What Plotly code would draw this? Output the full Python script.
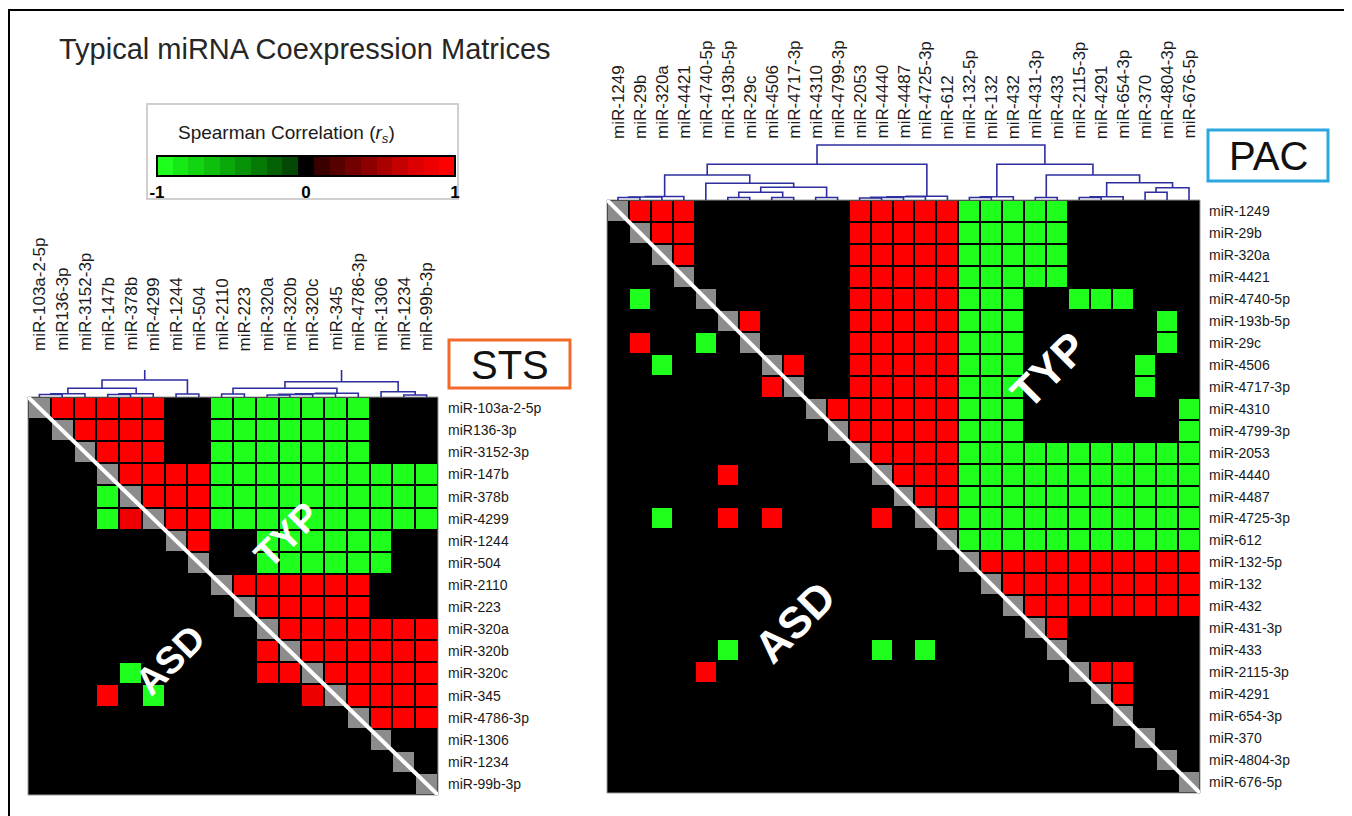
import plotly.graph_objects as go

# page body has an 8px margin; work in reference pixel coords and shift
OFF = 8
W, H = 1352 - OFF, 816 - OFF
def px(x): return (x - OFF) / W
def py(y): return 1 - (y - OFF) / H

FONT = "Liberation Sans, Arial, sans-serif"

# ---------------- data ----------------
STS_LABELS = ["miR-103a-2-5p", "miR136-3p", "miR-3152-3p", "miR-147b", "miR-378b", "miR-4299",
              "miR-1244", "miR-504", "miR-2110", "miR-223", "miR-320a", "miR-320b", "miR-320c",
              "miR-345", "miR-4786-3p", "miR-1306", "miR-1234", "miR-99b-3p"]

PAC_LABELS = ["miR-1249", "miR-29b", "miR-320a", "miR-4421", "miR-4740-5p", "miR-193b-5p", "miR-29c",
              "miR-4506", "miR-4717-3p", "miR-4310", "miR-4799-3p", "miR-2053", "miR-4440", "miR-4487",
              "miR-4725-3p", "miR-612", "miR-132-5p", "miR-132", "miR-432", "miR-431-3p", "miR-433",
              "miR-2115-3p", "miR-4291", "miR-654-3p", "miR-370", "miR-4804-3p", "miR-676-5p"]

# Spearman r_s read from the cells: R strong +, r slightly weaker +, G strong -, . ~0, X diagonal
RS_LEVEL = {"R": 0.95, "r": 0.85, "G": -0.95, ".": 0.0}

# upper triangle = TYP, lower triangle = ASD
STS_CELLS = [
    "XRRRRR..GGGGGGG...",
    ".XRRRR..GGGGGGG...",
    "..XRRR..GGGGGGG...",
    "...XRRRRGGGGGGGGGG",
    "...GXRRRGGGGGGGGGG",
    "...GrXRRGGGGGGGGGG",
    "......XR..GGGGGG..",
    ".......X..GGGGGG..",
    "........XRRRRRR...",
    ".........XRRRRR...",
    "..........XRRRRRRR",
    "..........RXRRRRRR",
    "....G.....RRXRRRRR",
    "...R.G......rXRRRR",
    "..............XRRR",
    "...............X..",
    "................X.",
    ".................X",
]

PAC_CELLS = [
    "XRRR.......RRRRRGGGGG......",
    ".XRR.......RRRRRGGGGG......",
    "..XR.......RRRRRGGGGG......",
    "...X.......RRRRRGGGGG......",
    ".G..X......RRRRRGGG..GGG...",
    ".....XR....RRRRRGGG......G.",
    ".R..G.X....RRRRRGGG......G.",
    "..G....XR..RRRRRGGG.....G..",
    ".......RX..RRRRRGGG.....G..",
    ".........XRRRRRRGGG.......G",
    "..........XRRRRRGGG.......G",
    "...........XRRRRGGGGGGGGGGG",
    ".....R......XRRRGGGGGGGGGGG",
    ".............XRRGGGGGGGGGGG",
    "..G..R.R....R.XRGGGGGGGGGGG",
    "...............XGGGGGGGGGGG",
    "................XRRRRRRRRRR",
    ".................XRRRRRRRRR",
    "..................XRRRRRRRR",
    "...................XR......",
    ".....G......G.G.....X......",
    "....R................XRR...",
    "......................XR...",
    ".......................X...",
    "........................X..",
    ".........................X.",
    "..........................X",
]

# dendrogram merges: (child_a, child_b, height_px); leaves 0..n-1, merge k gets id n+k
STS_MERGES = [(0, 1, 2.5), (18, 2, 3.2), (3, 4, 2.5), (20, 5, 3.2), (19, 21, 8.7), (6, 7, 3.0),
              (22, 23, 17.0), (8, 9, 3.0), (10, 11, 2.0), (26, 12, 2.6), (27, 13, 3.2), (28, 14, 3.8),
              (25, 29, 8.7), (16, 17, 2.0), (15, 31, 5.3), (30, 32, 15.3)]
STS_STUBS = [(24, 27.0), (33, 27.0)]

PAC_MERGES = [(0, 1, 2.5), (27, 2, 3.0), (28, 3, 3.5), (5, 6, 2.5), (7, 8, 2.5), (30, 31, 7.7),
              (9, 10, 2.5), (32, 33, 12.7), (4, 34, 16.7), (29, 35, 25.0), (11, 12, 2.0), (37, 13, 2.6),
              (38, 14, 3.2), (39, 15, 3.8), (36, 40, 35.7), (16, 17, 2.5), (42, 18, 3.2), (19, 20, 2.5),
              (21, 22, 2.5), (45, 23, 3.2), (24, 25, 7.7), (47, 26, 12.3), (46, 48, 17.3), (44, 49, 25.0),
              (43, 50, 35.7), (41, 51, 55.0)]
PAC_STUBS = []

LEGEND_TICKS = [-1, 0, 1]

# ---------------- styling ----------------
GREEN_STEPS = ["#1EFF1E", "#16EA16", "#10D510", "#0CC00C", "#09A909", "#079207", "#057A05", "#046204", "#034803"]
RED_STEPS = ["#3A0000", "#560000", "#730000", "#8E0000", "#AA0000", "#C40000", "#DC0000", "#EE0000", "#FF0000"]
steps = GREEN_STEPS + ["#000000"] + RED_STEPS
nb = len(steps)
CS = []
for i, c in enumerate(steps):
    CS.append([i / nb, c])
    CS.append([(i + 1) / nb, c])

DEND_COLOR = "#2E2EA0"
GRAY = "#8C8C8C"
TXT = "#1a1a1a"


def build(cells):
    n = len(cells)
    z, d = [], []
    for r in range(n):
        assert len(cells[r]) == n, (r, len(cells[r]))
        zr, dr = [], []
        for c in range(n):
            s = cells[r][c]
            if s == "X":
                zr.append(None); dr.append(1)
            else:
                zr.append(RS_LEVEL[s]); dr.append(None)
        z.append(zr); d.append(dr)
    return z, d


def dendro(merges, n, stubs):
    pos = {i: (float(i), 0.0) for i in range(n)}
    xs, ys = [], []
    for k, (a, b, h) in enumerate(merges):
        xa, ha = pos[a]
        xb, hb = pos[b]
        xs += [xa, xa, xb, xb, None]
        ys += [ha, h, h, hb, None]
        pos[n + k] = ((xa + xb) / 2, h)
    for cid, top in stubs:
        x, h = pos[cid]
        xs += [x, x, None]
        ys += [h, top, None]
    return xs, ys


fig = go.Figure()

panels = [
    dict(cells=STS_CELLS, labels=STS_LABELS, merges=STS_MERGES, stubs=STS_STUBS,
         xa="x", ya="y", yd="y3", box=(28, 397, 438, 795), gap=2),
    dict(cells=PAC_CELLS, labels=PAC_LABELS, merges=PAC_MERGES, stubs=PAC_STUBS,
         xa="x2", ya="y2", yd="y4", box=(607, 200, 1200, 793), gap=2),
]

shapes = []
annotations = []

for p in panels:
    n = len(p["labels"])
    z, d = build(p["cells"])
    idx = list(range(n))
    fig.add_trace(go.Heatmap(z=z, x=idx, y=idx, coloraxis="coloraxis", xgap=p["gap"], ygap=p["gap"],
                             xaxis=p["xa"], yaxis=p["ya"], hoverinfo="skip"))
    fig.add_trace(go.Heatmap(z=d, x=idx, y=idx, colorscale=[[0, GRAY], [1, GRAY]], showscale=False,
                             xgap=p["gap"], ygap=p["gap"], xaxis=p["xa"], yaxis=p["ya"], hoverinfo="skip"))
    xs, ys = dendro(p["merges"], n, p["stubs"])
    fig.add_trace(go.Scatter(x=xs, y=ys, mode="lines", line=dict(color=DEND_COLOR, width=1.6),
                             xaxis=p["xa"], yaxis=p["yd"], hoverinfo="skip", showlegend=False))
    x0, y0, x1, y1 = p["box"]
    shapes.append(dict(type="rect", xref="paper", yref="paper", x0=px(x0), x1=px(x1), y0=py(y1), y1=py(y0),
                       fillcolor="black", line=dict(color="#9A9A9A", width=1), layer="below"))
    shapes.append(dict(type="line", xref=p["xa"], yref=p["ya"], x0=-0.5, y0=-0.5, x1=n - 0.5, y1=n - 0.5,
                       line=dict(color="white", width=4), layer="above"))

# labels STS
for i, lab in enumerate(STS_LABELS):
    annotations.append(dict(x=i, xref="x", y=py(353), yref="paper", text=lab, textangle=-90,
                            xanchor="center", yanchor="bottom", showarrow=False,
                            font=dict(family=FONT, size=17, color=TXT)))
    annotations.append(dict(x=px(446), xref="paper", y=i, yref="y", text=lab, xanchor="left",
                            yanchor="middle", showarrow=False, font=dict(family=FONT, size=14, color=TXT)))
for i, lab in enumerate(PAC_LABELS):
    annotations.append(dict(x=i, xref="x2", y=py(141), yref="paper", text=lab, textangle=-90,
                            xanchor="center", yanchor="bottom", showarrow=False,
                            font=dict(family=FONT, size=17, color=TXT)))
    annotations.append(dict(x=px(1207), xref="paper", y=i, yref="y2", text=lab, xanchor="left",
                            yanchor="middle", showarrow=False, font=dict(family=FONT, size=14, color=TXT)))

# TYP / ASD labels
for (cx, cy, t, s) in [(287, 535, "TYP", 38), (170, 660, "ASD", 38), (1049, 370, "TYP", 44), (794, 622, "ASD", 44)]:
    annotations.append(dict(x=px(cx), y=py(cy), xref="paper", yref="paper", text=t, textangle=-45,
                            xanchor="center", yanchor="middle", showarrow=False,
                            font=dict(family=FONT, size=s, color="white", weight="bold")))

# STS / PAC boxes
shapes.append(dict(type="rect", xref="paper", yref="paper", x0=px(449), x1=px(570), y0=py(388), y1=py(340),
                   line=dict(color="#F26A2A", width=3)))
annotations.append(dict(x=px(509.5), y=py(365), xref="paper", yref="paper", text="STS", showarrow=False,
                        xanchor="center", yanchor="middle", font=dict(family=FONT, size=40, color="#111")))
shapes.append(dict(type="rect", xref="paper", yref="paper", x0=px(1208), x1=px(1328), y0=py(181), y1=py(130),
                   line=dict(color="#2BA8E0", width=3)))
annotations.append(dict(x=px(1268), y=py(156), xref="paper", yref="paper", text="PAC", showarrow=False,
                        xanchor="center", yanchor="middle", font=dict(family=FONT, size=40, color="#111")))

# title
annotations.append(dict(x=px(305), y=py(49), xref="paper", yref="paper", text="Typical miRNA Coexpression Matrices",
                        showarrow=False, xanchor="center", yanchor="middle",
                        font=dict(family=FONT, size=29, color="#262626")))

# legend box
shapes.append(dict(type="rect", xref="paper", yref="paper", x0=px(147), x1=px(458), y0=py(199), y1=py(104),
                   line=dict(color="#CFCFCF", width=2)))
annotations.append(dict(x=px(286), y=py(134), xref="paper", yref="paper",
                        text="Spearman Correlation (<i>r</i><sub><i>s</i></sub>)", showarrow=False,
                        xanchor="center", yanchor="middle", font=dict(family=FONT, size=19, color=TXT)))

# outer frame
shapes.append(dict(type="rect", xref="paper", yref="paper", x0=px(9), x1=px(1347), y0=py(830), y1=py(10),
                   line=dict(color="black", width=2)))

hid = dict(visible=False, showgrid=False, zeroline=False)
fig.update_layout(
    width=W, height=H, margin=dict(l=0, r=0, t=0, b=0),
    paper_bgcolor="white", plot_bgcolor="rgba(0,0,0,0)",
    xaxis=dict(domain=[px(28), px(438)], range=[-0.5, 17.5], anchor="y", **hid),
    yaxis=dict(domain=[py(795), py(397)], range=[17.5, -0.5], anchor="x", **hid),
    yaxis3=dict(domain=[py(397), py(367)], range=[0, 30], anchor="x", **hid),
    xaxis2=dict(domain=[px(607), px(1200)], range=[-0.5, 26.5], anchor="y2", **hid),
    yaxis2=dict(domain=[py(793), py(200)], range=[26.5, -0.5], anchor="x2", **hid),
    yaxis4=dict(domain=[py(200), py(140)], range=[0, 60], anchor="x2", **hid),
    coloraxis=dict(cmin=-1, cmax=1, colorscale=CS,
                   colorbar=dict(orientation="h", x=px(306), xanchor="center", y=py(156), yanchor="top",
                                 len=298, lenmode="pixels", thickness=20, thicknessmode="pixels",
                                 outlinecolor="black", outlinewidth=2, tickvals=LEGEND_TICKS,
                                 ticktext=[str(v) for v in LEGEND_TICKS], ticks="", xpad=0, ypad=0,
                                 tickfont=dict(family=FONT, size=17, color="black", weight="bold"))),
    shapes=shapes, annotations=annotations, showlegend=False,
)

fig.write_html("out.html")
